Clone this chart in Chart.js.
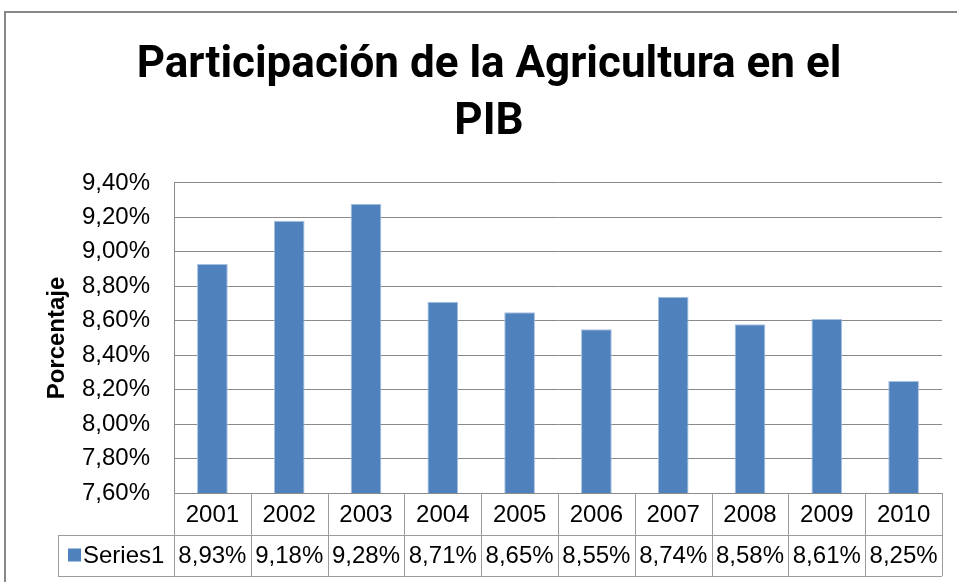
<!DOCTYPE html>
<html>
<head>
<meta charset="utf-8">
<title>Participación de la Agricultura en el PIB</title>
<script src="https://cdn.jsdelivr.net/npm/chart.js@4.4.1/dist/chart.umd.min.js"></script>
<style>
  html, body { margin: 0; padding: 0; background: #fff; }
  #wrap { width: 957px; height: 582px; }
</style>
</head>
<body>
<div id="wrap"><canvas id="pibChart" width="957" height="582"></canvas></div>
<script>
// datos del gráfico
const years = ['2001', '2002', '2003', '2004', '2005', '2006', '2007', '2008', '2009', '2010'];
const seriesName = 'Series1';
const agricShare = [8.93, 9.18, 9.28, 8.71, 8.65, 8.55, 8.74, 8.58, 8.61, 8.25];
const yTicks = [7.60, 7.80, 8.00, 8.20, 8.40, 8.60, 8.80, 9.00, 9.20, 9.40];
const titleLines = ['Participación de la Agricultura en el', 'PIB'];
const yAxisTitle = 'Porcentaje';

const barColor = '#4F81BD';
const gridColor = '#8a8a8a';
const tableColor = '#9c9c9c';
const textFont = "'Liberation Sans', Arial, sans-serif";

// formato con coma decimal
function pct(v) {
  return v.toFixed(2).replace('.', ',') + '%';
}

// marco y tabla de datos debajo del eje
const dataTablePlugin = {
  id: 'dataTable',
  beforeDraw(chart) {
    const ctx = chart.ctx;
    ctx.save();
    ctx.fillStyle = '#fff';
    ctx.fillRect(0, 0, chart.width, chart.height);
    ctx.strokeStyle = '#878787';
    ctx.lineWidth = 2;
    ctx.strokeRect(5, 12, chart.width + 20, chart.height + 20);
    ctx.restore();
  },
  afterDraw(chart) {
    const { ctx, chartArea } = chart;
    const xs = chart.scales.x;
    const n = years.length;
    const cellW = (chartArea.right - chartArea.left) / n;
    const top = chartArea.bottom;
    const row1 = top + 42;
    const row2 = row1 + 41;
    const legendLeft = 58;

    ctx.save();
    ctx.strokeStyle = tableColor;
    ctx.lineWidth = 1;

    // líneas horizontales
    ctx.beginPath();
    ctx.moveTo(legendLeft, row1 + 0.5);
    ctx.lineTo(chartArea.right, row1 + 0.5);
    ctx.moveTo(legendLeft, row2 + 0.5);
    ctx.lineTo(chartArea.right, row2 + 0.5);
    // líneas verticales
    for (let i = 0; i <= n; i++) {
      const px = Math.round(chartArea.left + i * cellW) + 0.5;
      ctx.moveTo(px, top);
      ctx.lineTo(px, row2);
    }
    ctx.moveTo(legendLeft + 0.5, row1);
    ctx.lineTo(legendLeft + 0.5, row2);
    ctx.stroke();

    // valores de la serie
    ctx.fillStyle = '#000';
    ctx.font = '24px ' + textFont;
    ctx.textAlign = 'center';
    ctx.textBaseline = 'middle';
    const midY = (row1 + row2) / 2 + 1;
    agricShare.forEach((v, i) => {
      ctx.fillText(pct(v), xs.getPixelForValue(i), midY);
    });

    // clave de leyenda
    ctx.fillStyle = barColor;
    ctx.fillRect(legendLeft + 10, midY - 8, 13, 13);
    ctx.fillStyle = '#000';
    ctx.textAlign = 'left';
    ctx.fillText(seriesName, legendLeft + 25, midY);
    ctx.restore();
  }
};

Chart.defaults.font.family = textFont;
Chart.defaults.color = '#000';

const ctx = document.getElementById('pibChart').getContext('2d');
window.pibChart = new Chart(ctx, {
  type: 'bar',
  data: {
    labels: years,
    datasets: [{
      label: seriesName,
      data: agricShare,
      backgroundColor: barColor,
      borderColor: '#a9c1e0',
      borderWidth: 1,
      barPercentage: 0.4,
      categoryPercentage: 1.0
    }]
  },
  options: {
    responsive: false,
    animation: false,
    layout: {
      padding: { left: 36, right: 15, top: 0, bottom: 0 }
    },
    plugins: {
      legend: { display: false },
      tooltip: { enabled: false },
      title: {
        display: true,
        text: titleLines,
        color: '#000',
        font: { family: "Roboto, 'Liberation Sans', sans-serif", size: 44, weight: 'bold', lineHeight: 1.295 },
        padding: { top: 38, bottom: 31 }
      }
    },
    scales: {
      x: {
        grid: { display: false, drawTicks: false },
        border: { display: true, color: gridColor },
        ticks: { font: { size: 24 }, padding: 8, maxRotation: 0, autoSkip: false },
        afterFit(scale) { scale.height = 89; }
      },
      y: {
        min: yTicks[0],
        max: yTicks[yTicks.length - 1],
        afterBuildTicks(scale) {
          scale.ticks = yTicks.map(v => ({ value: v }));
        },
        grid: { color: gridColor, drawTicks: false },
        border: { display: true, color: gridColor },
        ticks: {
          font: { size: 24 },
          padding: 24,
          callback: v => pct(v)
        },
        title: {
          display: true,
          text: yAxisTitle,
          color: '#000',
          font: { size: 24, weight: 'bold' },
          padding: { top: 7, bottom: 0 }
        },
        afterFit(scale) { scale.width = 138; }
      }
    }
  },
  plugins: [dataTablePlugin]
});
</script>
</body>
</html>
